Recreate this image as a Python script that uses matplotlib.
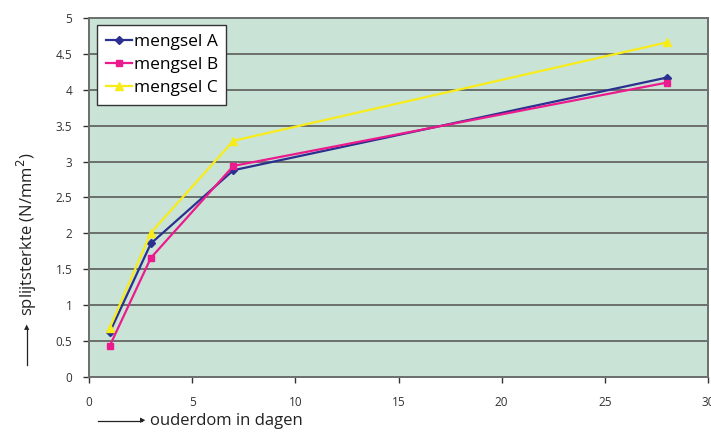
import matplotlib.pyplot as plt

days = [1, 3, 7, 28]
mix_a = [0.62, 1.86, 2.88, 4.17]
mix_b = [0.43, 1.66, 2.94, 4.10]
mix_c = [0.68, 2.01, 3.29, 4.66]

plt.rcParams['font.family'] = ['Open Sans', 'DejaVu Sans']

fig = plt.figure(figsize=(7.11, 4.34), dpi=100)
ax = fig.add_axes([89/711, 1 - 377/434, (708-89)/711, (377-18)/434])
ax.set_facecolor('#c9e4d6')

ax.plot(days, mix_a, color='#2b3090', marker='D', ms=4, lw=1.6, label='mengsel A')
ax.plot(days, mix_b, color='#ec1b8d', marker='s', ms=5, lw=1.6, label='mengsel B')
ax.plot(days, mix_c, color='#f7ec1a', marker='^', ms=6, lw=1.6, label='mengsel C')

ax.set_xlim(0, 30)
ax.set_ylim(0, 5)
ax.set_xticks([0, 5, 10, 15, 20, 25, 30])
ax.set_yticks([0, 0.5, 1, 1.5, 2, 2.5, 3, 3.5, 4, 4.5, 5])
ax.set_yticklabels(['0', '0.5', '1', '1.5', '2', '2.5', '3', '3.5', '4', '4.5', '5'])
ax.yaxis.grid(True, color='#6b6f6d', lw=1.4)
ax.set_axisbelow(True)
for s in ax.spines.values():
    s.set_color('#6b6f6d')
    s.set_linewidth(1.4)
ax.tick_params(labelsize=8.5, colors='#333333', length=4, width=1, pad=8)
ax.tick_params(axis='x', pad=10)

leg = ax.legend(loc='upper left', bbox_to_anchor=(0.013, 0.98), borderaxespad=0,
                fontsize=12.5, frameon=True, fancybox=False, edgecolor='#333333',
                facecolor='white', framealpha=1,
                handlelength=1.5, handletextpad=0.1, borderpad=0.5,
                labelspacing=0.4)
leg.get_frame().set_linewidth(1.0)

# axis titles with leading arrows
fig.text(150/711, 1 - 421/434, 'ouderdom in dagen', fontsize=12, va='center', ha='left', color='#222222')
fig.add_artist(plt.Line2D([98/711, 142/711], [1 - 421/434] * 2, color='#222222', lw=0.9))
fig.text(143/711, 1 - 421/434, '▶', fontsize=5, va='center', ha='center', color='#222222')

fig.text(27/711, 1 - 234/434, 'splijtsterkte (N/mm$^2$)', fontsize=12, rotation=90,
         va='center', ha='center', color='#222222')
fig.add_artist(plt.Line2D([27/711] * 2, [1 - 365/434, 1 - 329/434], color='#222222', lw=0.9))
fig.text(27/711, 1 - 328/434, '▲', fontsize=5, va='center', ha='center', color='#222222')

fig.savefig('out.png', dpi=100)
